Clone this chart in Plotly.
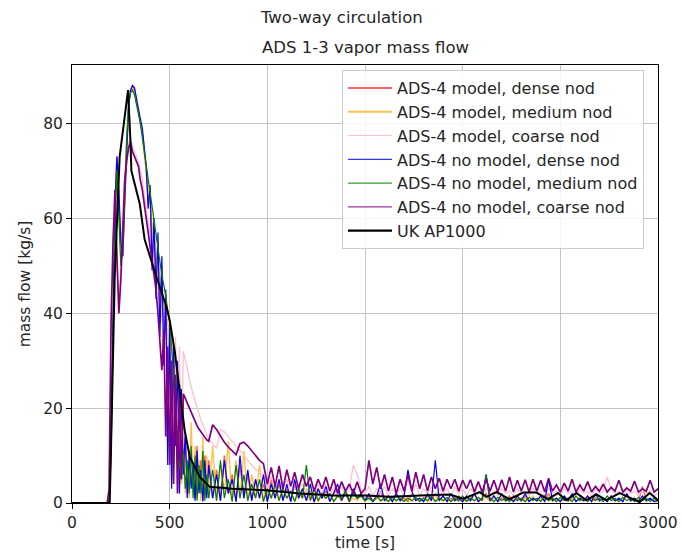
import plotly.graph_objects as go

# ---------------- data ----------------
# shared time grid for the simulation series [s]
time_s = [0, 180] + list(range(190, 700, 10)) + list(range(700, 3001, 20))

red_dense = [0, 0,
    0, 15, 43, 63, 73, 65, 54, 52, 64, 76,
    84, 87, 88, 87, 85, 83, 80, 78, 74, 70,
    63, 66, 50, 59, 45, 55, 38, 50, 30, 44,
    12, 37, 5, 32, 14, 28, 3, 22, 7, 14,
    2, 11, 4, 8, 1, 12, 3, 9, 0.5, 10,
    2,
    9, 1, 7, 0.5, 10, 2, 6, 0.3, 8, 1,
    6, 0.5, 5, 1, 4, 0.3, 5, 1, 4, 0.5,
    3, 0.3, 4, 1, 3, 0.5, 2.5, 0.2, 3, 1,
    2.5, 0.3, 2, 3, 0.5, 2, 0.3, 2.5, 1, 2,
    0.5, 1.5, 0.3, 1, 2.5, 0.5, 1.5, 0.3, 2, 0.5,
    1, 0.3, 2, 0.5, 1, 0.3, 1.5, 0.5, 2, 0.5,
    1.5, 0.3, 1, 0.5, 1.5, 0.3, 1, 0.5, 2, 0.3,
    1, 2, 0.5, 1.5, 0.3, 1, 0.5, 1.5, 0.3, 1,
    0.5, 1.5, 0.3, 1, 0.5, 1.5, 0.3, 2, 0.5, 1,
    0.3, 1, 0.5, 1.5, 0.3, 1, 0.5, 1.5, 0.3, 1,
    0.5, 1, 0.3, 1.5, 0.5, 1, 0.3, 2, 0.5, 1,
    0.3, 3.5, 0.5, 1, 0.3, 0.5]

orange_medium = [0, 0,
    0, 12, 40, 60, 72, 64, 52, 53, 65, 77,
    84, 87, 87.5, 86.5, 84.5, 82.5, 80, 78, 74, 70,
    66, 62, 58, 55, 52, 50, 47, 44, 42, 40,
    38, 35, 30, 24, 18, 12, 7, 4, 10, 2,
    8, 1, 17, 3, 12, 1, 9, 0.5, 14, 2,
    10,
    1, 12, 0.5, 8, 2, 13, 0.5, 9, 1, 11,
    0.5, 6, 1, 8, 0.3, 5, 1, 4, 0.5, 3,
    1, 2.5, 0.3, 2, 1, 3, 0.5, 2, 0.3, 1.5,
    1, 2, 0.3, 1.5, 0.5, 2, 0.3, 1, 0.5, 1.5,
    0.3, 1, 0.5, 1.5, 0.3, 1, 0.5, 1.2, 0.3, 1,
    0.5, 1.5, 0.3, 1, 0.5, 1.2, 0.3, 1, 0.5, 1.5,
    0.3, 1, 0.5, 1.2, 0.3, 1, 0.5, 1.5, 0.3, 1,
    0.5, 1.2, 0.3, 1, 0.5, 1.5, 0.3, 1, 0.5, 1.2,
    0.3, 1, 0.5, 1.5, 0.3, 1, 0.5, 1.2, 0.3, 1,
    0.5, 1.5, 0.3, 1, 0.5, 1.2, 0.3, 1, 0.5, 1.5,
    0.3, 1, 0.5, 1.2, 0.3, 1, 0.5, 1.5, 0.3, 1,
    0.5, 1.2, 0.3, 1, 0.5, 0.3]

pink_coarse = [0, 0,
    2, 35, 52, 64, 50, 42, 50, 62, 70, 74,
    76, 77, 75, 74, 73, 72, 70, 68, 65, 62,
    59, 56, 53, 50, 47, 44, 41, 38, 35, 33,
    37, 12, 36, 9, 35, 14, 33, 10, 32, 30,
    28, 26, 24.5, 23, 21.5, 20, 19, 17.5, 16.5, 15.5,
    14.5,
    13.5, 12.5, 11.5, 15.5, 15, 14, 13, 12, 11, 10,
    9, 8, 7, 6.5, 6, 3, 5.5, 2.5, 5, 2.5,
    5, 2, 4.5, 2.5, 4, 2, 4.5, 2, 4, 2,
    4, 1.5, 3.5, 2, 3.5, 1.5, 3, 8, 6, 3,
    2, 3.5, 1.5, 3, 2, 3.5, 1.5, 3, 2, 3,
    1.5, 5, 2, 4, 1.5, 3, 2, 3.5, 1.5, 3,
    2, 3, 1.5, 3.5, 2, 3, 1.5, 3, 2, 2.5,
    1.5, 3, 2, 2.5, 1.5, 3, 2, 2.5, 1.5, 3,
    2, 2.5, 1.5, 3, 2, 2.5, 1.5, 3, 2, 2.5,
    1.5, 3, 2, 2.5, 1.5, 3, 2, 2.5, 1.5, 3,
    2, 2.5, 5.5, 3, 2, 2.5, 1.5, 3, 2, 2.5,
    1.5, 3, 2, 2.5, 1.5, 2]

blue_dense = [0, 0,
    0, 14, 42, 63, 73, 66, 55, 52, 64, 76,
    84, 87, 88, 87.5, 85, 83, 81, 79, 75, 71,
    62, 67, 49, 60, 43, 57, 35, 52, 29, 45,
    8, 38, 3, 33, 12, 30, 2, 24, 6, 15,
    1, 10, 3, 8, 0.5, 11, 2, 7, 0.3, 9,
    1,
    8, 1, 6, 0.5, 9, 2, 5, 0.3, 10, 1,
    7, 0.5, 5, 1, 6, 0.3, 4, 1, 5, 0.5,
    4, 0.3, 5, 1, 3, 0.5, 4, 0.2, 3, 1,
    3.5, 0.3, 2, 4, 0.5, 2.5, 0.3, 3, 1, 2,
    0.5, 2, 0.3, 1.5, 4, 0.5, 1.5, 0.3, 2, 0.5,
    1.5, 7, 2.5, 0.5, 1, 0.3, 2, 0.5, 9, 0.5,
    1.5, 0.3, 2, 0.5, 1, 0.3, 1.5, 0.5, 2, 0.3,
    1, 6, 0.5, 1.5, 0.3, 2, 0.5, 1, 0.3, 1.5,
    0.5, 2, 0.3, 1, 0.5, 1.5, 0.3, 5, 0.5, 1,
    0.3, 1.5, 0.5, 2, 0.3, 1, 0.5, 1.5, 0.3, 2,
    0.5, 1, 0.3, 1.5, 0.5, 1, 0.3, 2, 0.5, 1,
    0.3, 1.5, 0.5, 1, 0.3, 0.5]

green_medium = [0, 0,
    0, 10, 38, 58, 70, 60, 50, 54, 66, 77,
    84, 86.5, 87, 86, 84, 82, 80, 77, 74, 71,
    68, 65, 62, 59, 56, 53, 50, 48, 46, 43,
    41, 38, 33, 27, 20, 13, 8, 5, 11, 3,
    9, 2, 12, 1, 10, 0.5, 8, 2, 11, 0.5,
    6,
    1, 7, 0.5, 9, 1, 5, 0.3, 8, 1, 6,
    0.5, 4, 1, 5, 0.3, 3, 1, 4, 0.5, 3,
    1, 2.5, 0.3, 3, 1, 8, 0.5, 3, 0.5, 2,
    1, 2, 0.3, 1.5, 1, 2.5, 0.5, 2, 1, 1.5,
    0.5, 1, 0.3, 1.5, 0.5, 1, 0.3, 1.2, 0.5, 1,
    0.3, 1, 0.5, 1.2, 0.3, 1, 0.5, 1.5, 0.3, 1,
    0.5, 1.2, 0.3, 1, 0.5, 1.5, 0.3, 1, 0.5, 1.2,
    0.5, 6, 1, 0.3, 1.2, 0.5, 1, 0.3, 1.5, 0.5,
    1, 0.3, 1.2, 0.5, 1, 0.3, 1.5, 0.5, 1, 0.3,
    1.2, 0.5, 1, 0.3, 1.5, 0.5, 1, 0.3, 1.2, 0.5,
    1, 0.3, 1.5, 0.5, 1, 0.3, 1.2, 0.5, 1, 0.3,
    1.2, 0.5, 1, 0.3, 1, 0.5]

purple_coarse = [0, 0,
    3, 38, 55, 66, 52, 40, 47, 60, 68, 72,
    75, 76, 74, 73, 72, 71, 68, 66, 63, 60,
    57, 54, 51, 48, 45, 40, 34, 28, 36, 14,
    33, 8, 30, 4, 27, 2, 25, 5, 23, 22,
    21, 20, 19, 18, 17, 16.3, 15.6, 15, 14.4, 13.8,
    13.3,
    13, 16.5, 15.5, 14, 12.8, 11.8, 11, 10.2, 12.5, 12.8,
    12, 11, 10, 9, 8.3, 4, 7.5, 3.5, 7.8, 3,
    7, 3.5, 6.5, 3, 6, 3.5, 5.5, 2.5, 5, 3,
    5.5, 2.5, 5, 2, 4.5, 2.5, 4, 2, 4.5, 2,
    3, 9, 4, 7.5, 3, 6, 2.5, 5.5, 2, 5,
    2.5, 6, 2.5, 6.5, 3, 6, 2.5, 5.5, 3, 5.2,
    2.5, 5, 3, 5, 2.5, 4.8, 3, 4.9, 2.3, 4.5,
    2.3, 5, 2.5, 4.8, 2.3, 4.9, 2.5, 5.5, 2.3, 4.8,
    2.5, 4.9, 2.3, 5, 2.5, 4.8, 2.3, 5.2, 2.5, 3.8,
    2.3, 4.2, 2.5, 5, 2.3, 3.8, 2.5, 4.5, 2.3, 3.5,
    2.5, 4, 2.3, 3.3, 2.5, 4.8, 2.3, 3.2, 2.5, 4.6,
    2.3, 3, 2.5, 4.8, 2.3, 3]

# UK AP1000 reference curve
ap_time = [0, 193, 200, 208, 219, 244, 287, 299, 304, 347, 372, 432, 483, 500,
           526, 551, 577, 603, 654, 705, 823, 995, 1166, 1337, 1507, 1627, 1763,
           1849, 1934, 2003, 2088, 2122, 2173, 2241, 2309, 2377, 2437, 2488, 2531,
           2582, 2633, 2685, 2735, 2804, 2906, 2957, 3000]
ap_flow = [0, 0, 12, 30, 48, 73, 87, 76.5, 70, 63, 55.5, 47.7, 41.4, 38.5,
           32, 23.7, 15.3, 9.7, 5.5, 3.4, 3.0, 2.7, 2.0, 1.6, 1.6, 1.3, 1.6,
           1.7, 1.8, 0.9, 2.3, 1.3, 2.3, 0.8, 2.2, 2.2, 0.8, 2.1, 0.6,
           2.1, 0.6, 1.8, 0.6, 2.1, 0.2, 2.1, 0.6]

series = [
    # name, values, plot colour, plot width, legend colour, legend width
    ("ADS-4 model, dense nod", red_dense, "rgba(255,0,0,0.65)", 1.4, "rgba(255,60,60,0.8)", 2),
    ("ADS-4 model, medium nod", orange_medium, "rgba(255,165,0,0.7)", 1.4, "rgba(255,175,40,0.8)", 2),
    ("ADS-4 model, coarse nod", pink_coarse, "#ffc0cb", 1.3, "#ffc0cb", 1.2),
    ("ADS-4 no model, dense nod", blue_dense, "#0000ff", 1.2, "#0000ff", 1),
    ("ADS-4 no model, medium nod", green_medium, "#008000", 1.2, "#008000", 1),
    ("ADS-4 no model, coarse nod", purple_coarse, "#800080", 1.7, "#800080", 1),
]

FONT = "DejaVu Sans"

fig = go.Figure()
for name, vals, color, w, lcolor, lw in series:
    n = min(len(time_s), len(vals))
    fig.add_trace(go.Scatter(x=time_s[:n], y=vals[:n], mode="lines", name=name,
                             legendgroup=name, showlegend=False,
                             line=dict(color=color, width=w)))
fig.add_trace(go.Scatter(x=ap_time, y=ap_flow, mode="lines", name="UK AP1000",
                         legendgroup="UK AP1000", showlegend=False,
                         line=dict(color="black", width=2)))
# legend entries (thin line samples like the original)
for name, vals, color, w, lcolor, lw in series:
    fig.add_trace(go.Scatter(x=[None], y=[None], mode="lines", name=name,
                             legendgroup=name, showlegend=True,
                             line=dict(color=lcolor, width=lw)))
fig.add_trace(go.Scatter(x=[None], y=[None], mode="lines", name="UK AP1000",
                         legendgroup="UK AP1000", showlegend=True,
                         line=dict(color="black", width=2.2)))

W, H = 682, 554
ml, mr, mt, mb = 72, 24, 65, 51
ph = H - mt - mb
pw = W - ml - mr

fig.update_layout(
    width=W, height=H,
    margin=dict(l=ml, r=mr, t=mt, b=mb, pad=0, autoexpand=False),
    paper_bgcolor="white", plot_bgcolor="white",
    font=dict(family=FONT, size=15, color="#262626"),
    showlegend=True,
    legend=dict(x=(342 - ml) / pw, y=1 - (70 - mt) / ph, xanchor="left", yanchor="top",
                bgcolor="rgba(255,255,255,0.85)", bordercolor="#cccccc", borderwidth=1,
                font=dict(family=FONT, size=16, color="#262626"),
                tracegroupgap=0, itemwidth=44, traceorder="normal"),
    xaxis=dict(range=[0, 3000], tickvals=[0, 500, 1000, 1500, 2000, 2500, 3000],
               showgrid=True, gridcolor="#c4c4c4", gridwidth=1.3, automargin=False,
               showline=True, mirror=True, linecolor="black", linewidth=1,
               ticks="outside", ticklen=5, tickcolor="black", zeroline=False,
               tickfont=dict(size=15.5),
               title=dict(text="time [s]", font=dict(size=15.5), standoff=6)),
    yaxis=dict(range=[0, 92.3], tickvals=[0, 20, 40, 60, 80],
               showgrid=True, gridcolor="#c4c4c4", gridwidth=1.3, automargin=False,
               showline=True, mirror=True, linecolor="black", linewidth=1,
               ticks="outside", ticklen=5, tickcolor="black", zeroline=False,
               tickfont=dict(size=15.5),
               title=dict(text="mass flow [kg/s]", font=dict(size=15.5), standoff=8)),
    annotations=[
        dict(text="Two-way circulation", x=(341 - ml) / pw, y=1 + (mt - 17) / ph,
             xref="paper", yref="paper", showarrow=False, xanchor="center", yanchor="middle",
             font=dict(family=FONT, size=16.5, color="#262626")),
        dict(text="ADS 1-3 vapor mass flow", x=0.5, y=1 + (mt - 47) / ph,
             xref="paper", yref="paper", showarrow=False, xanchor="center", yanchor="middle",
             font=dict(family=FONT, size=16.5, color="#262626")),
    ],
)

fig.write_html("out.html")
